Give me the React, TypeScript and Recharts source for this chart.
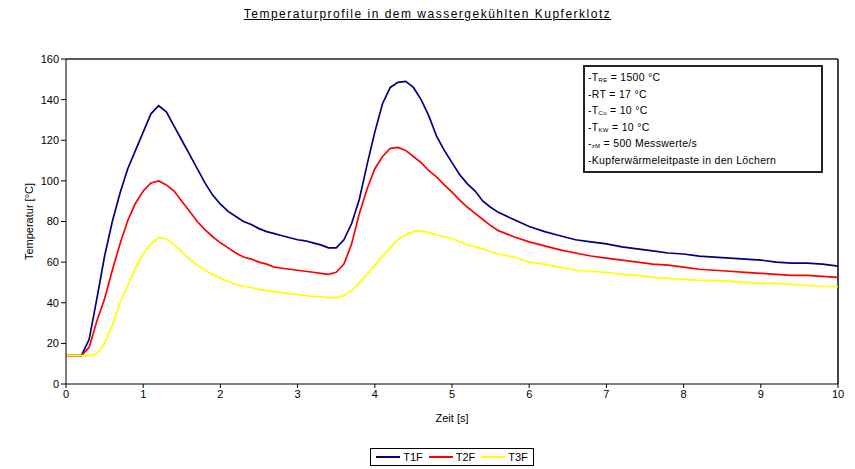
import React from "react";
import {
  LineChart,
  Line,
  XAxis,
  YAxis,
  Legend,
  ReferenceLine,
} from "recharts";

// time axis (s)
const times = [
  0, 0.1, 0.2, 0.3, 0.4, 0.5, 0.6, 0.7, 0.8, 0.9,
  1.0, 1.1, 1.2, 1.3, 1.4, 1.5, 1.6, 1.7, 1.8, 1.9,
  2.0, 2.1, 2.2, 2.3, 2.4, 2.5, 2.6, 2.7, 2.8, 2.9,
  3.0, 3.1, 3.2, 3.3, 3.4, 3.5, 3.6, 3.7, 3.8, 3.9,
  4.0, 4.1, 4.2, 4.3, 4.4, 4.5, 4.6, 4.7, 4.8, 4.9,
  5.0, 5.1, 5.2, 5.3, 5.4, 5.5, 5.6, 5.8, 6.0, 6.2,
  6.4, 6.6, 6.8, 7.0, 7.2, 7.4, 7.6, 7.8, 8.0, 8.2,
  8.4, 8.6, 8.8, 9.0, 9.2, 9.4, 9.6, 9.8, 10.0,
];

const t1f = [
  14, 14, 14, 22, 42, 63, 80, 94, 106, 115,
  124, 133, 137, 134, 127, 120, 113, 106, 99, 93,
  88.5, 85, 82.5, 80, 78.5, 76.5, 75, 74, 73, 72,
  71, 70.5, 69.5, 68.5, 67, 67, 71, 79, 91, 108,
  124, 138, 146, 148.5, 149, 146, 140, 132, 122, 115,
  109, 103, 98.5, 95, 90, 87, 84.5, 81, 77.5, 75,
  73, 71, 70, 69, 67.5, 66.5, 65.5, 64.5, 64, 63,
  62.5, 62, 61.5, 61, 60, 59.5, 59.5, 59, 58,
];

const t2f = [
  14, 14, 14, 18, 31, 42, 56, 69, 80.5, 89,
  95, 99, 100, 98, 95, 90, 85, 80, 76, 72.5,
  69.5, 67, 64.5, 62.5, 61.5, 60, 59, 57.5, 57, 56.5,
  56, 55.5, 55, 54.5, 54, 55, 59, 69, 84, 96,
  106, 112, 116, 116.5, 115, 112, 109, 105, 102, 98,
  94.5, 90.5, 87, 84, 81, 78, 75.5, 72.5, 70, 68,
  66, 64.5, 63, 62, 61, 60, 59, 58.5, 57.5, 56.5,
  56, 55.5, 55, 54.5, 54, 53.5, 53.5, 53, 52.5,
];

const t3f = [
  14, 14, 14, 14, 15, 20, 29, 40, 48.5, 57,
  64, 69, 72, 71.5, 68.5, 65, 61.5, 58.5, 56, 54,
  52, 50.5, 49, 48, 47.5, 46.5, 46, 45.5, 45, 44.5,
  44, 43.5, 43, 43, 42.5, 42.5, 43.5, 46, 50, 54,
  58.5, 63, 67, 71, 73.5, 75, 75.5, 74.5, 73.5, 72.5,
  71.5, 70, 68.5, 67.5, 66.5, 65, 64, 62.5, 60, 59,
  57.5, 56, 55.5, 55, 54, 53.5, 52.5, 52, 51.5, 51,
  51, 50.5, 50, 49.5, 49.5, 49, 48.5, 48, 48,
];

const xTicks = [0, 1, 2, 3, 4, 5, 6, 7, 8, 9, 10];
const yTicks = [0, 20, 40, 60, 80, 100, 120, 140, 160];

const series = [
  { key: "T1F", values: t1f, color: "#000080" },
  { key: "T2F", values: t2f, color: "#ff0000" },
  { key: "T3F", values: t3f, color: "#ffff00" },
];

const data = times.map((t, i) => ({
  t,
  T1F: t1f[i],
  T2F: t2f[i],
  T3F: t3f[i],
}));

const font = "'Liberation Sans', Arial, sans-serif";

function LegendBox() {
  return (
    <div style={{ textAlign: "center" }}>
      <div
        style={{
          display: "inline-flex",
          alignItems: "center",
          border: "1px solid #000",
          padding: "2px 5px",
          gap: 6,
          fontFamily: font,
          fontSize: 11,
          background: "#fff",
        }}
      >
        {series.map((s) => (
          <span key={s.key} style={{ display: "inline-flex", alignItems: "center" }}>
            <span
              style={{
                display: "inline-block",
                width: 24,
                height: 0,
                borderTop: `2px solid ${s.color}`,
                marginRight: 3,
              }}
            />
            {s.key}
          </span>
        ))}
      </div>
    </div>
  );
}

const sub: React.CSSProperties = {
  fontSize: 6,
  position: "relative",
  top: 1,
  lineHeight: 0,
};
const row: React.CSSProperties = { height: 16.6, lineHeight: "16.6px" };

export default function App() {
  return (
    <div
      style={{
        position: "absolute",
        left: 0,
        top: 0,
        width: 855,
        height: 469,
        background: "#fff",
        fontFamily: font,
      }}
    >
      <div
        style={{
          position: "absolute",
          top: 7,
          left: 0,
          width: 855,
          textAlign: "center",
          fontSize: 12,
          textDecoration: "underline",
          letterSpacing: 1.5,
        }}
      >
        Temperaturprofile in dem wassergekühlten Kupferklotz
      </div>
      <LineChart
        width={855}
        height={469}
        data={data}
        margin={{ top: 59, right: 17, bottom: 3, left: 20 }}
      >
        <XAxis
          dataKey="t"
          type="number"
          domain={[0, 10]}
          ticks={xTicks}
          tickSize={4}
          height={60}
          stroke="#000"
          tick={{ fill: "#000", fontSize: 11, fontFamily: font }}
          label={{
            value: "Zeit [s]",
            position: "insideTop",
            offset: 30,
            fill: "#000",
            fontSize: 11,
            fontFamily: font,
          }}
        />
        <YAxis
          type="number"
          domain={[0, 160]}
          ticks={yTicks}
          tickSize={5}
          width={46}
          stroke="#000"
          tick={{ fill: "#000", fontSize: 11, fontFamily: font }}
          label={{
            value: "Temperatur [°C]",
            angle: -90,
            position: "insideLeft",
            offset: 0,
            dx: 9,
            style: { textAnchor: "middle" },
            fill: "#000",
            fontSize: 11,
            fontFamily: font,
          }}
        />
        <ReferenceLine y={160} stroke="#222" strokeWidth={1.5} />
        <ReferenceLine x={10} stroke="#444" strokeWidth={2} />
        {series.map((s) => (
          <Line
            key={s.key}
            dataKey={s.key}
            stroke={s.color}
            strokeWidth={1.7}
            dot={false}
            type="linear"
            isAnimationActive={false}
          />
        ))}
        <Legend
          verticalAlign="bottom"
          align="center"
          wrapperStyle={{ left: 66, width: 772 }}
          content={() => <LegendBox />}
        />
      </LineChart>
      <div
        style={{
          position: "absolute",
          left: 583,
          top: 65,
          width: 240,
          height: 108,
          border: "2px solid #222",
          background: "#fff",
          fontSize: 10.5,
          letterSpacing: 0.3,
          padding: "2px 0 0 3px",
          boxSizing: "border-box",
        }}
      >
        <div style={row}>-T<span style={sub}>RE</span> = 1500 °C</div>
        <div style={row}>-RT = 17 °C</div>
        <div style={row}>-T<span style={sub}>Cu</span> = 10 °C</div>
        <div style={row}>-T<span style={sub}>KW</span> = 10 °C</div>
        <div style={row}>-<span style={sub}>zM</span> = 500 Messwerte/s</div>
        <div style={row}>-Kupferwärmeleitpaste in den Löchern</div>
      </div>
    </div>
  );
}
